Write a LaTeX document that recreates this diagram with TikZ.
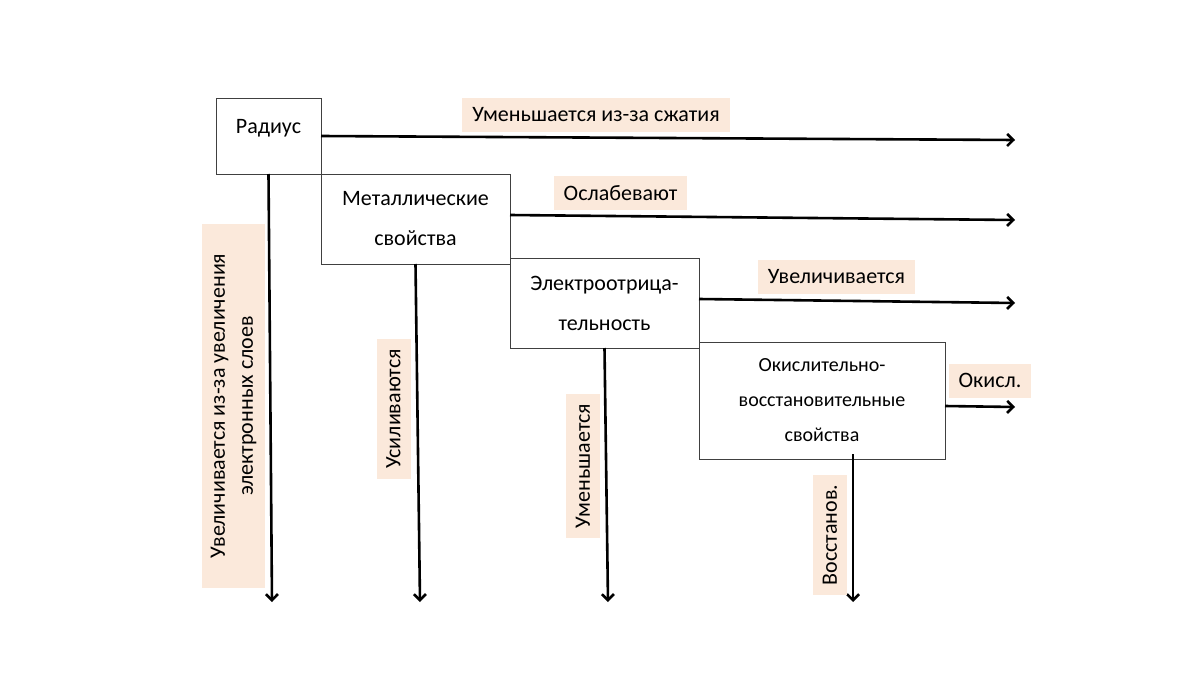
\documentclass[tikz,border=0pt]{standalone}
\usepackage{fontspec}
\setmainfont{Carlito}
\usepackage{tikz}
\usetikzlibrary{calc,arrows.meta,positioning}
\definecolor{bezh}{HTML}{FBE9DB}
\tikzset{
    svoistvo/.style={draw=black!75,line width=0.8pt,fill=white,align=center,inner sep=0pt,outer sep=0pt,font=\fontsize{22}{40}\selectfont},
    metka/.style={fill=bezh,align=center,inner xsep=10pt,minimum height=34pt,font=\fontsize{22}{28}\selectfont},
    strelka/.style={draw,line width=2.6pt,-{Straight Barb[length=6pt,width=12pt]}},
}
\begin{document}
\begin{tikzpicture}[x=1pt,y=-1pt]
    \useasboundingbox (0,0) rectangle (1200,696);
    \node [svoistvo,anchor=north west,minimum width=105pt,minimum height=76pt,text depth=20pt] (radius) at (216,98) {Радиус};
    \node [svoistvo,anchor=north west,minimum width=189pt,minimum height=90pt] (metall) at (radius.south east) {Металлические\\свойства};
    \node [svoistvo,anchor=north west,minimum width=189pt,minimum height=90pt] (elektro) at ($(metall.south east)+(0,-6)$) {Электроотрица-\\тельность};
    \node [svoistvo,anchor=north west,minimum width=246pt,minimum height=117pt,font=\fontsize{20}{35}\selectfont] (okisl) at ($(elektro.south east)+(0,-6)$) {Окислительно-\\восстановительные\\свойства};
    % концы стрелок
    \coordinate (r1) at (1015,140);
    \coordinate (r2) at (1015,220);
    \coordinate (r3) at (1015,303);
    \coordinate (r4) at (1015,407);
    \coordinate (d1) at (272,602);
    \coordinate (d2) at (420,602);
    \coordinate (d3) at (608,602);
    \coordinate (d4) at (853,602);
    \path [strelka] (radius.east) -- (r1);
    \path [strelka] ($(metall.east)+(0,-4)$) -- (r2);
    \path [strelka] ($(elektro.east)+(0,-4)$) -- (r3);
    \path [strelka] ($(okisl.east)+(0,5.5)$) -- (r4);
    \path [strelka] (radius.south) -- (d1);
    \path [strelka] (metall.south) -- (d2);
    \path [strelka] (elektro.south) -- (d3);
    \path [strelka] ($(okisl.south)+(31,-5)$) -- (d4);
    % подписи
    \node [metka] (lradius) at (596,115) {Уменьшается из-за сжатия};
    \node [metka] (lmetall) at (620.5,193) {Ослабевают};
    \node [metka] (lelektro) at (836.5,277) {Увеличивается};
    \node [metka] (lokisl) at (990,380.5) {Окисл.};
    \node [metka,rotate=90,minimum width=364pt,minimum height=63pt] (lradiusv) at (233.5,406) {Увеличивается из-за увеличения\\электронных слоев};
    \node [metka,rotate=90] (lmetallv) at (393.5,409) {Усиливаются};
    \node [metka,rotate=90] (lelektrov) at (583,466) {Уменьшается};
    \node [metka,rotate=90] (lokislv) at (830,535) {Восстанов.};
\end{tikzpicture}
\end{document}
